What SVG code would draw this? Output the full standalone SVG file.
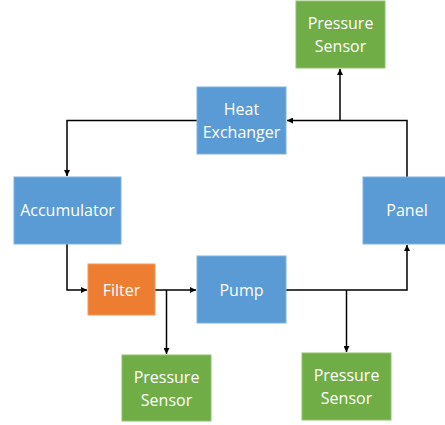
<svg xmlns="http://www.w3.org/2000/svg" width="445" height="425" viewBox="0 0 445 425">
<defs>
<style>
.blue{fill:#5B9BD5;stroke:#7FB2E0;stroke-width:1}
.green{fill:#70AD47;stroke:#8FC26C;stroke-width:1}
.orange{fill:#ED7D31;stroke:#F29A5E;stroke-width:1}
text{font-family:"Open Sans","Liberation Sans",sans-serif;font-size:16px;fill:#fff;text-anchor:middle}
.c path{fill:none;stroke:#000;stroke-width:1.5}
</style>
<marker id="ah" viewBox="0 0 10 10" refX="10" refY="5" markerWidth="6" markerHeight="6" orient="auto" markerUnits="userSpaceOnUse">
<path d="M0,0 L10,5 L0,10 z" fill="#000"/>
</marker>
</defs>
<rect width="445" height="425" fill="#fff"/>
<g class="c" id="connectors">
<path d="M407,177 V120.5 H287" marker-end="url(#ah)"/>
<path d="M340,120.5 V69" marker-end="url(#ah)"/>
<path d="M197,120.5 H67 V176" marker-end="url(#ah)"/>
<path d="M67,244 V290 H87" marker-end="url(#ah)"/>
<path d="M155,290 H196" marker-end="url(#ah)"/>
<path d="M166.5,290 V354" marker-end="url(#ah)"/>
<path d="M286,290 H407 V245" marker-end="url(#ah)"/>
<path d="M346.5,290 V352" marker-end="url(#ah)"/>
</g>
<g id="sensor-top"><rect class="green" x="296" y="1" width="89" height="67"/><text x="340.5" y="29">Pressure</text><text x="340.5" y="52">Sensor</text></g>
<g id="heat-exchanger"><rect class="blue" x="197" y="87" width="89" height="67"/><text x="241.5" y="115">Heat</text><text x="241.5" y="138">Exchanger</text></g>
<g id="accumulator"><rect class="blue" x="14" y="177" width="107" height="67"/><text x="67.5" y="216">Accumulator</text></g>
<g id="panel"><rect class="blue" x="363" y="177" width="90" height="67"/><text x="407" y="216">Panel</text></g>
<g id="filter"><rect class="orange" x="88" y="264" width="67" height="51"/><text x="121.5" y="296">Filter</text></g>
<g id="pump"><rect class="blue" x="197" y="256" width="89" height="67"/><text x="241.5" y="296">Pump</text></g>
<g id="sensor-left"><rect class="green" x="122" y="355" width="89" height="66"/><text x="166.5" y="383">Pressure</text><text x="166.5" y="406">Sensor</text></g>
<g id="sensor-right"><rect class="green" x="302" y="353" width="89" height="67"/><text x="346.5" y="381">Pressure</text><text x="346.5" y="404">Sensor</text></g>
</svg>
